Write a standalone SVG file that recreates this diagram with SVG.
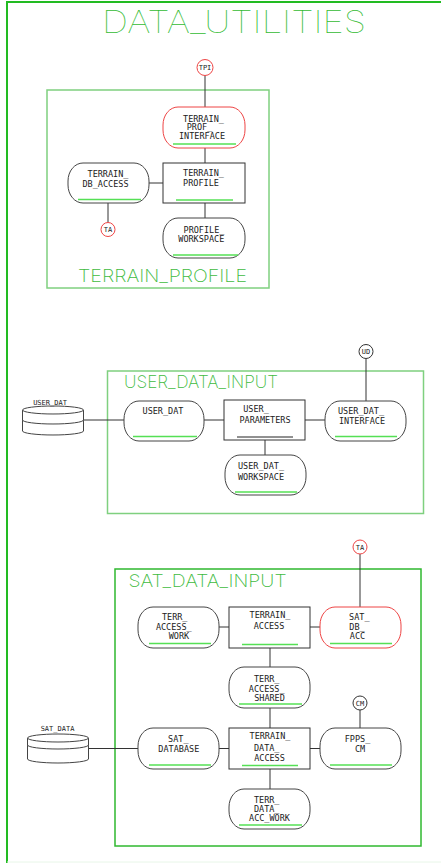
<svg xmlns="http://www.w3.org/2000/svg" width="441" height="863" viewBox="0 0 441 863">
  <style>
    .frame { fill: none; stroke: #22bb22; stroke-width: 2; }
    .pkg { fill: none; stroke: #7fd07f; stroke-width: 1.5; }
    .pkg-dark { fill: none; stroke: #2fb82f; stroke-width: 1.5; }
    .pill { fill: #ffffff; stroke: #444444; stroke-width: 1; }
    .pill-red { fill: #ffffff; stroke: #ee4444; stroke-width: 1; }
    .box { fill: #ffffff; stroke: #333333; stroke-width: 1; }
    .uline { stroke: #55e055; stroke-width: 1.6; }
    .uline-dark { stroke: #222222; stroke-width: 1; }
    .conn line { stroke: #333333; stroke-width: 1; }
    .db { fill: #ffffff; stroke: #444444; stroke-width: 1; }
    .ref { fill: #ffffff; stroke: #333333; stroke-width: 1; }
    .ref-red { fill: #ffffff; stroke: #ee4444; stroke-width: 1; }
    .lbl { font-family: "DejaVu Sans Mono", "Liberation Mono", monospace; font-size: 8.5px; fill: #222222; text-anchor: middle; }
    .small { font-family: "DejaVu Sans Mono", "Liberation Mono", monospace; font-size: 7px; fill: #222222; text-anchor: middle; }
    .title { font-family: Inter, Roboto, "DejaVu Sans", sans-serif; font-weight: 100; font-size: 31px; fill: #33bb33; }
    .pkgname { font-family: Inter, Roboto, "DejaVu Sans", sans-serif; font-weight: 200; font-size: 17px; fill: #3fbb3f; }
  </style>

  <!-- outer frame -->
  <path class="frame" d="M 7 864 V 2 H 442"/>
  <line x1="7" y1="862" x2="441" y2="862" stroke="#e8f6e8" stroke-width="1"/>
  <text class="title" x="102" y="33" textLength="264" lengthAdjust="spacingAndGlyphs">DATA_UTILITIES</text>

  <!-- package frames -->
  <g id="pkg-terrain-profile">
    <rect class="pkg" x="47" y="90" width="222" height="198"/>
    <text class="pkgname" x="78" y="281.5" textLength="169" lengthAdjust="spacingAndGlyphs">TERRAIN_PROFILE</text>
  </g>
  <g id="pkg-user-data-input">
    <rect class="pkg" x="107.5" y="371" width="316" height="142.5"/>
    <text class="pkgname" x="124" y="387.5" textLength="154" lengthAdjust="spacingAndGlyphs">USER_DATA_INPUT</text>
  </g>
  <g id="pkg-sat-data-input">
    <rect class="pkg-dark" x="115" y="569" width="306" height="277"/>
    <text class="pkgname" x="128.5" y="586.5" textLength="158" lengthAdjust="spacingAndGlyphs">SAT_DATA_INPUT</text>
  </g>

  <!-- connectors -->
  <g id="connectors" class="conn">
    <line x1="205" y1="75.5" x2="205" y2="107"/>
    <line x1="205" y1="148" x2="205" y2="163"/>
    <line x1="205" y1="203" x2="205" y2="218"/>
    <line x1="149" y1="183" x2="163" y2="183"/>
    <line x1="108" y1="203" x2="108" y2="222.5"/>
    <line x1="83.5" y1="420" x2="124" y2="420"/>
    <line x1="204" y1="420" x2="224" y2="420"/>
    <line x1="305" y1="420" x2="325" y2="420"/>
    <line x1="366" y1="358.5" x2="366" y2="401"/>
    <line x1="265" y1="440" x2="265" y2="455"/>
    <line x1="360" y1="554" x2="360" y2="607"/>
    <line x1="219" y1="627" x2="229" y2="627"/>
    <line x1="310" y1="627" x2="320" y2="627"/>
    <line x1="270" y1="648" x2="270" y2="667"/>
    <line x1="270" y1="708" x2="270" y2="728"/>
    <line x1="360" y1="710" x2="360" y2="728"/>
    <line x1="88.5" y1="748.5" x2="138" y2="748.5"/>
    <line x1="219" y1="748.5" x2="229" y2="748.5"/>
    <line x1="310" y1="748.5" x2="320" y2="748.5"/>
    <line x1="270" y1="769" x2="270" y2="789"/>
  </g>

  <!-- TERRAIN_PROFILE package -->
  <g id="ref-tpi">
    <circle class="ref-red" cx="205" cy="67.5" r="8"/>
    <text class="small" x="205" y="70">TPI</text>
  </g>
  <g id="terrain-prof-interface">
    <rect class="pill-red" x="163" y="107" width="82" height="41" rx="15" ry="18"/>
    <line class="uline" x1="173" y1="144" x2="236" y2="144"/>
    <text class="lbl" x="203.5" y="121.5">TERRAIN_</text>
    <text class="lbl" x="199.5" y="130">PROF_</text>
    <text class="lbl" x="202" y="138.5">INTERFACE</text>
  </g>
  <g id="terrain-profile">
    <rect class="box" x="163" y="163" width="82" height="40"/>
    <line class="uline" x1="176" y1="200" x2="233" y2="200"/>
    <text class="lbl" x="203.5" y="176">TERRAIN_</text>
    <text class="lbl" x="201" y="185.5">PROFILE</text>
  </g>
  <g id="profile-workspace">
    <rect class="pill" x="163" y="218" width="82" height="40" rx="15" ry="18"/>
    <line class="uline" x1="173" y1="255" x2="238" y2="255"/>
    <text class="lbl" x="204" y="233.3">PROFILE_</text>
    <text class="lbl" x="201.3" y="242.3">WORKSPACE</text>
  </g>
  <g id="terrain-db-access">
    <rect class="pill" x="68" y="163" width="81" height="40" rx="15" ry="18"/>
    <line class="uline" x1="78" y1="199.5" x2="141" y2="199.5"/>
    <text class="lbl" x="108" y="177">TERRAIN_</text>
    <text class="lbl" x="105.5" y="187">DB_ACCESS</text>
  </g>
  <g id="ref-ta-1">
    <circle class="ref-red" cx="108" cy="229.5" r="7"/>
    <text class="small" x="108" y="232">TA</text>
  </g>

  <!-- USER_DATA_INPUT package -->
  <g id="user-dat-store">
    <path class="db" d="M 22.5 410 A 30.5 4 0 0 1 83.5 410 V 431 A 30.5 4 0 0 1 22.5 431 Z"/>
    <path class="db" d="M 22.5 410 A 30.5 4 0 0 0 83.5 410"/>
    <path class="db" fill="none" d="M 22.5 420 A 30.5 4 0 0 0 83.5 420"/>
    <text class="small" x="50" y="404.5">USER_DAT</text>
  </g>
  <g id="user-dat">
    <rect class="pill" x="124" y="401" width="80" height="40" rx="15" ry="18"/>
    <line class="uline" x1="133" y1="436.5" x2="197" y2="436.5"/>
    <text class="lbl" x="163" y="414">USER_DAT</text>
  </g>
  <g id="user-parameters">
    <rect class="box" x="224" y="400" width="81" height="40"/>
    <line class="uline-dark" x1="237" y1="437" x2="293" y2="437"/>
    <text class="lbl" x="256" y="412">USER_</text>
    <text class="lbl" x="265" y="422.5">PARAMETERS</text>
  </g>
  <g id="user-dat-interface">
    <rect class="pill" x="325" y="401" width="81" height="40" rx="15" ry="18"/>
    <line class="uline" x1="335" y1="436.5" x2="397" y2="436.5"/>
    <text class="lbl" x="361" y="414">USER_DAT_</text>
    <text class="lbl" x="362" y="424">INTERFACE</text>
  </g>
  <g id="user-dat-workspace">
    <rect class="pill" x="225" y="455" width="81" height="40" rx="15" ry="18"/>
    <line class="uline" x1="235" y1="492" x2="297" y2="492"/>
    <text class="lbl" x="261" y="469.3">USER_DAT_</text>
    <text class="lbl" x="261" y="480">WORKSPACE</text>
  </g>
  <g id="ref-ud">
    <circle class="ref" cx="366" cy="351.5" r="7"/>
    <text class="small" x="366" y="354">UD</text>
  </g>

  <!-- SAT_DATA_INPUT package -->
  <g id="ref-ta-2">
    <circle class="ref-red" cx="360" cy="547" r="7"/>
    <text class="small" x="360" y="549.5">TA</text>
  </g>
  <g id="terr-access-work">
    <rect class="pill" x="138" y="607" width="81" height="41" rx="15" ry="18"/>
    <line class="uline" x1="149" y1="643.5" x2="211" y2="643.5"/>
    <text class="lbl" x="174.7" y="620">TERR_</text>
    <text class="lbl" x="173.8" y="630">ACCESS_</text>
    <text class="lbl" x="179" y="639.3">WORK</text>
  </g>
  <g id="terrain-access">
    <rect class="box" x="229" y="607" width="81" height="41"/>
    <line class="uline" x1="242" y1="644.5" x2="298" y2="644.5"/>
    <text class="lbl" x="270" y="618.3">TERRAIN_</text>
    <text class="lbl" x="269" y="629">ACCESS</text>
  </g>
  <g id="sat-db-acc">
    <rect class="pill-red" x="320" y="607" width="81" height="41" rx="15" ry="18"/>
    <line class="uline" x1="330" y1="643.5" x2="392" y2="643.5"/>
    <text class="lbl" x="359.3" y="620">SAT_</text>
    <text class="lbl" x="357" y="630">DB_</text>
    <text class="lbl" x="357.5" y="639.3">ACC</text>
  </g>
  <g id="terr-access-shared">
    <rect class="pill" x="229" y="667" width="81" height="41" rx="15" ry="18"/>
    <line class="uline" x1="239" y1="704" x2="302" y2="704"/>
    <text class="lbl" x="266.7" y="681.6">TERR_</text>
    <text class="lbl" x="266.7" y="691.6">ACCESS_</text>
    <text class="lbl" x="269.5" y="700.6">SHARED</text>
  </g>
  <g id="sat-data-store">
    <path class="db" d="M 27.5 738 A 30.5 4 0 0 1 88.5 738 V 759 A 30.5 4 0 0 1 27.5 759 Z"/>
    <path class="db" d="M 27.5 738 A 30.5 4 0 0 0 88.5 738"/>
    <path class="db" fill="none" d="M 27.5 745 A 30.5 4 0 0 0 88.5 745"/>
    <text class="small" x="57.5" y="730.5">SAT_DATA</text>
  </g>
  <g id="sat-database">
    <rect class="pill" x="138" y="728" width="81" height="41" rx="15" ry="18"/>
    <line class="uline" x1="149" y1="765" x2="211" y2="765"/>
    <text class="lbl" x="178.3" y="742.3">SAT_</text>
    <text class="lbl" x="178.8" y="752.3">DATABASE</text>
  </g>
  <g id="terrain-data-access">
    <rect class="box" x="229" y="728" width="81" height="41"/>
    <line class="uline" x1="242" y1="765.5" x2="298" y2="765.5"/>
    <text class="lbl" x="270" y="739">TERRAIN_</text>
    <text class="lbl" x="266.7" y="750.6">DATA_</text>
    <text class="lbl" x="269.5" y="760.6">ACCESS</text>
  </g>
  <g id="fpps-cm">
    <rect class="pill" x="320" y="728" width="81" height="41" rx="15" ry="18"/>
    <line class="uline" x1="330" y1="765" x2="392" y2="765"/>
    <text class="lbl" x="357.5" y="742.3">FPPS_</text>
    <text class="lbl" x="360" y="752">CM</text>
  </g>
  <g id="ref-cm">
    <circle class="ref" cx="360" cy="703" r="7"/>
    <text class="small" x="360" y="705.5">CM</text>
  </g>
  <g id="terr-data-acc-work">
    <rect class="pill" x="229" y="789" width="81" height="40" rx="15" ry="18"/>
    <line class="uline" x1="239" y1="825" x2="302" y2="825"/>
    <text class="lbl" x="266.7" y="802.6">TERR_</text>
    <text class="lbl" x="266.7" y="812.3">DATA_</text>
    <text class="lbl" x="269.5" y="821">ACC_WORK</text>
  </g>
</svg>
